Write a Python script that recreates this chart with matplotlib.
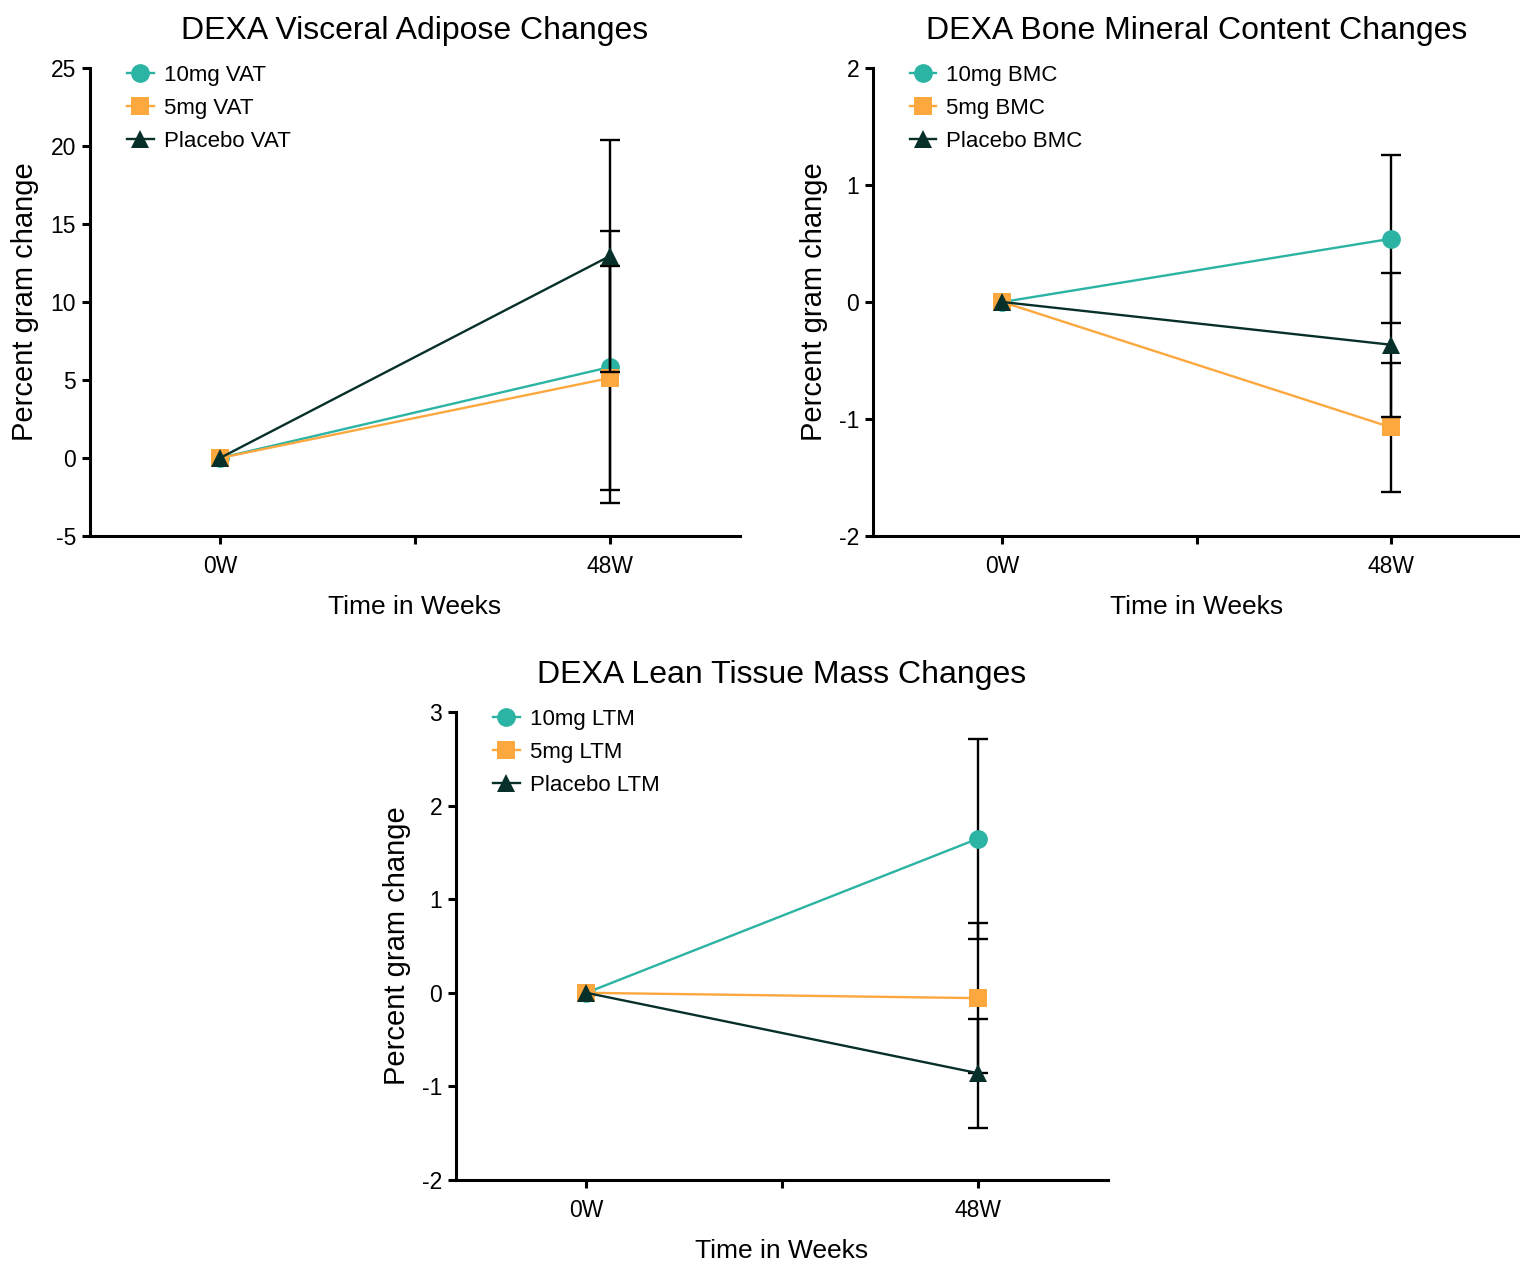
import numpy as np
import matplotlib
matplotlib.use("Agg")
import matplotlib.pyplot as plt

plt.rcParams["font.family"] = ["Liberation Sans", "DejaVu Sans"]

# data
weeks = ["0W", "48W"]

vat_10mg = [0, 5.83]
vat_10mg_err = [np.nan, 8.72]
vat_5mg = [0, 5.13]
vat_5mg_err = [np.nan, 7.15]
vat_placebo = [0, 12.95]
vat_placebo_err = [np.nan, 7.45]

bmc_10mg = [0, 0.54]
bmc_10mg_err = [np.nan, 0.72]
bmc_5mg = [0, -1.07]
bmc_5mg_err = [np.nan, 0.55]
bmc_placebo = [0, -0.365]
bmc_placebo_err = [np.nan, 0.615]

ltm_10mg = [0, 1.645]
ltm_10mg_err = [np.nan, 1.065]
ltm_5mg = [0, -0.057]
ltm_5mg_err = [np.nan, 0.805]
ltm_placebo = [0, -0.858]
ltm_placebo_err = [np.nan, 0.582]

TEAL = "#2bb3a3"
ORANGE = "#fda83f"
DARK = "#07302b"


def panel(ax, title, tag, series, ylim, yticks):
    x = np.arange(len(weeks))
    styles = [("10mg", TEAL, "o", 13.5), ("5mg", ORANGE, "s", 13.5), ("Placebo", DARK, "^", 13.5)]
    for i, ((vals, err), (name, color, marker, ms)) in enumerate(zip(series, styles)):
        z = 2 + i
        ax.errorbar(x, vals, yerr=err, fmt="none", ecolor="black", elinewidth=1.7,
                    capsize=7.5, capthick=1.7, zorder=z)
        ax.plot(x, vals, color=color, marker=marker, ms=ms, mew=0, lw=1.7,
                label=f"{name} {tag}", zorder=z + 0.5)

    ax.set_xlim(-1 / 3, 4 / 3)
    ax.set_xticks([0, 0.5, 1])
    ax.set_xticklabels([weeks[0], "", weeks[1]])
    ax.set_ylim(*ylim)
    ax.set_yticks(yticks)
    ax.set_yticklabels([str(t) for t in yticks])
    for s in ["top", "right"]:
        ax.spines[s].set_visible(False)
    for s in ["left", "bottom"]:
        ax.spines[s].set_linewidth(2.2)
    ax.tick_params(axis="x", width=2.2, length=6, labelsize=16.5, direction="out", pad=8)
    ax.tick_params(axis="y", width=2.2, length=6, labelsize=16.5, direction="out", pad=4)
    ax.set_title(title, fontsize=23, pad=21)
    ax.set_xlabel("Time in Weeks", fontsize=19, labelpad=12)
    ax.set_ylabel("Percent gram change", fontsize=21, labelpad=8)
    ax.legend(loc="upper left", frameon=False, fontsize=16, handlelength=1.2,
              handletextpad=0.45, labelspacing=0.55, borderaxespad=0.0,
              bbox_to_anchor=(0.043, 1.026))


fig = plt.figure(figsize=(15.2, 12.62), dpi=100)
ax1 = fig.add_axes([90 / 1520, 1 - 536 / 1262, 650 / 1520, 468 / 1262])
ax2 = fig.add_axes([873 / 1520, 1 - 536 / 1262, 647 / 1520, 468 / 1262])
ax3 = fig.add_axes([456 / 1520, 1 - 1180 / 1262, 652 / 1520, 468 / 1262])

panel(ax1, "DEXA Visceral Adipose Changes", "VAT",
      [(vat_10mg, vat_10mg_err), (vat_5mg, vat_5mg_err), (vat_placebo, vat_placebo_err)],
      (-5, 25), [-5, 0, 5, 10, 15, 20, 25])
panel(ax2, "DEXA Bone Mineral Content Changes", "BMC",
      [(bmc_10mg, bmc_10mg_err), (bmc_5mg, bmc_5mg_err), (bmc_placebo, bmc_placebo_err)],
      (-2, 2), [-2, -1, 0, 1, 2])
panel(ax3, "DEXA Lean Tissue Mass Changes", "LTM",
      [(ltm_10mg, ltm_10mg_err), (ltm_5mg, ltm_5mg_err), (ltm_placebo, ltm_placebo_err)],
      (-2, 3), [-2, -1, 0, 1, 2, 3])

fig.savefig("out.png", dpi=100)
